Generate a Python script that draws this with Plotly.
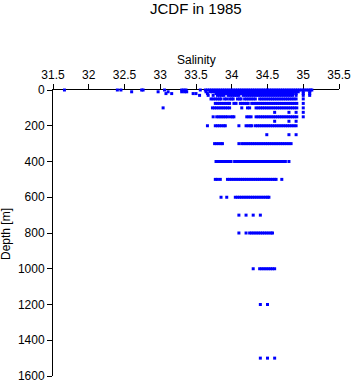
import plotly.graph_objects as go

title_text = "JCDF in 1985"
x_title = "Salinity"
y_title = "Depth [m]"

x_ticks = [31.5, 32.0, 32.5, 33.0, 33.5, 34.0, 34.5, 35.0, 35.5]
x_tick_labels = ["31.5", "32", "32.5", "33", "33.5", "34", "34.5", "35", "35.5"]
y_ticks = [0, 200, 400, 600, 800, 1000, 1200, 1400, 1600]

sal_0 = [31.66, 32.40, 32.45, 32.74, 32.76, 33.06, 33.30, 33.33, 33.36, 33.56,
         33.63, 33.66, 33.69, 33.72, 33.75, 33.78, 33.81, 33.84, 33.87, 33.90, 33.93, 33.96, 33.99,
         34.02, 34.05, 34.08, 34.11, 34.14, 34.17, 34.20, 34.23, 34.26, 34.29, 34.32, 34.35, 34.38,
         34.41, 34.44, 34.47, 34.50, 34.53, 34.56, 34.59, 34.62, 34.65, 34.68, 34.71, 34.74, 34.77,
         34.80, 34.83, 34.86, 34.89, 34.92, 34.95, 34.98, 35.01, 35.04, 35.07, 35.10, 35.12]
sal_10 = [32.60, 32.97, 33.11, 33.30, 33.34, 33.37, 33.64, 33.70, 33.73, 33.76, 33.79, 33.82,
          33.85, 33.88, 33.91, 33.94, 33.97, 34.00, 34.03, 34.06, 34.09, 34.12, 34.15, 34.18,
          34.21, 34.24, 34.27, 34.30, 34.33, 34.36, 34.39, 34.42, 34.45, 34.48, 34.51, 34.54,
          34.57, 34.60, 34.63, 34.66, 34.69, 34.72, 34.75, 34.78, 34.81, 34.84, 34.87, 34.90,
          34.93, 35.00, 35.09]
sal_20 = [33.08, 33.16, 33.46, 33.50, 33.66, 33.78, 33.81, 33.84, 33.87, 33.90, 33.93, 33.96,
          33.99, 34.02, 34.05, 34.08, 34.11, 34.14, 34.17, 34.20, 34.23, 34.26, 34.29, 34.32,
          34.35, 34.38, 34.41, 34.44, 34.47, 34.50, 34.53, 34.56, 34.59, 34.62, 34.65, 34.68,
          34.71, 34.74, 34.77, 34.80, 34.83, 34.86, 34.90, 35.00, 35.09]
sal_30 = [33.55, 33.67, 33.74, 33.80, 33.83, 33.86, 33.89, 33.95, 33.98, 34.01, 34.04, 34.07,
          34.10, 34.16, 34.19, 34.22, 34.25, 34.28, 34.31, 34.34, 34.37, 34.40, 34.43, 34.46,
          34.49, 34.52, 34.55, 34.58, 34.61, 34.64, 34.67, 34.70, 34.73, 34.76, 34.79, 34.82,
          34.85, 34.90, 35.00, 35.09]
sal_50 = [33.71, 33.74, 33.77, 33.80, 33.83, 33.85, 33.90, 33.93, 33.97, 34.00, 34.02, 34.08,
          34.11, 34.13, 34.18, 34.21, 34.24, 34.27, 34.30, 34.33, 34.39, 34.42, 34.45, 34.48,
          34.51, 34.54, 34.57, 34.60, 34.63, 34.66, 34.69, 34.72, 34.75, 34.78, 34.81, 34.84,
          34.87, 34.90, 35.00]
sal_75 = [33.77, 33.80, 33.83, 33.86, 33.89, 33.92, 33.95, 33.97, 34.03, 34.06, 34.12, 34.15,
          34.18, 34.21, 34.23, 34.28, 34.31, 34.34, 34.37, 34.40, 34.43, 34.46, 34.49, 34.52,
          34.55, 34.58, 34.61, 34.64, 34.67, 34.70, 34.73, 34.76, 34.79, 34.82, 34.85, 34.88,
          34.91, 35.00]
sal_100 = [33.04, 33.73, 33.76, 33.79, 33.82, 33.85, 33.88, 33.91, 33.94, 33.97, 34.14, 34.22,
           34.25, 34.34, 34.37, 34.40, 34.43, 34.46, 34.49, 34.52, 34.55, 34.58, 34.61, 34.64,
           34.67, 34.70, 34.73, 34.76, 34.79, 34.82, 34.85, 34.88, 34.91, 35.00]
sal_125 = [34.60, 34.80, 34.90, 35.00]
sal_150 = [33.74, 33.79, 33.82, 33.85, 33.88, 33.91, 33.94, 33.98, 34.01, 34.03, 34.21, 34.24,
           34.27, 34.34, 34.37, 34.40, 34.43, 34.46, 34.49, 34.52, 34.55, 34.58, 34.61, 34.64,
           34.67, 34.70, 34.73, 34.76, 34.79, 34.82, 34.85, 34.88, 34.91, 35.00]
sal_175 = [34.60, 34.80, 34.90]
sal_200 = [33.66, 33.77, 33.80, 33.83, 33.86, 33.89, 33.91, 34.10, 34.20, 34.23, 34.26, 34.28,
           34.33, 34.36, 34.39, 34.42, 34.45, 34.48, 34.51, 34.54, 34.57, 34.60, 34.63, 34.66,
           34.69, 34.72, 34.75, 34.78, 34.81, 34.84, 34.87, 34.90]
sal_250 = [34.49, 34.80, 34.90]
sal_300 = [33.76, 33.79, 33.82, 33.85, 33.87, 34.10, 34.14, 34.17, 34.20, 34.23, 34.26, 34.29,
           34.32, 34.35, 34.38, 34.41, 34.44, 34.47, 34.50, 34.53, 34.56, 34.59, 34.62, 34.65,
           34.68, 34.71, 34.74, 34.77, 34.80, 34.83]
sal_400 = [33.78, 33.81, 33.84, 33.87, 33.90, 33.93, 33.96, 33.99, 34.04, 34.07, 34.10, 34.13,
           34.16, 34.18, 34.21, 34.24, 34.27, 34.30, 34.33, 34.36, 34.39, 34.42, 34.45, 34.48,
           34.51, 34.54, 34.57, 34.60, 34.63, 34.66, 34.69, 34.72, 34.75, 34.80]
sal_500 = [33.77, 33.80, 33.84, 33.94, 33.97, 34.00, 34.03, 34.06, 34.09, 34.12, 34.15, 34.18,
           34.21, 34.24, 34.27, 34.30, 34.33, 34.36, 34.39, 34.42, 34.45, 34.48, 34.51, 34.54,
           34.57, 34.60, 34.62, 34.70]
sal_600 = [33.85, 33.93, 34.05, 34.08, 34.11, 34.14, 34.17, 34.20, 34.23, 34.26, 34.29, 34.32,
           34.35, 34.38, 34.41, 34.44, 34.47, 34.50, 34.52]
sal_700 = [34.10, 34.20, 34.30, 34.40]
sal_800 = [34.10, 34.20, 34.25, 34.28, 34.31, 34.34, 34.37, 34.40, 34.43, 34.46, 34.49, 34.52,
           34.55, 34.57]
sal_1000 = [34.30, 34.39, 34.42, 34.45, 34.48, 34.51, 34.54, 34.57, 34.60]
sal_1200 = [34.40, 34.50]
sal_1500 = [34.40, 34.50, 34.60]

depth_levels = [0, 10, 20, 30, 50, 75, 100, 125, 150, 175, 200, 250, 300,
                400, 500, 600, 700, 800, 1000, 1200, 1500]
salinity_by_level = [sal_0, sal_10, sal_20, sal_30, sal_50, sal_75, sal_100, sal_125,
                     sal_150, sal_175, sal_200, sal_250, sal_300, sal_400, sal_500,
                     sal_600, sal_700, sal_800, sal_1000, sal_1200, sal_1500]

xs, ys = [], []
for d, vals in zip(depth_levels, salinity_by_level):
    for v in vals:
        xs.append(v)
        ys.append(d)

FONT = "Liberation Sans, Arial, Helvetica, sans-serif"

fig = go.Figure()
fig.add_trace(go.Scatter(
    x=xs, y=ys, mode="markers",
    marker=dict(symbol="square", size=3, color="#0000ff", line=dict(width=0)),
    cliponaxis=False, showlegend=False, hoverinfo="x+y",
))

fig.update_layout(
    width=353, height=384,
    margin=dict(l=53, r=14, t=90, b=8, pad=0, autoexpand=False),
    paper_bgcolor="white", plot_bgcolor="white",
    font=dict(family=FONT, size=12, color="black"),
    showlegend=False,
    xaxis=dict(
        side="top", range=[31.5, 35.5], tickvals=x_ticks, ticktext=x_tick_labels,
        showline=True, linecolor="black", linewidth=1, mirror=False,
        ticks="outside", ticklen=5, tickwidth=1, tickcolor="black",
        showgrid=False, zeroline=False, layer="below traces", automargin=False,
        tickfont=dict(family=FONT, size=12, color="black"),
        fixedrange=True,
    ),
    yaxis=dict(
        range=[1600, 0], tickvals=y_ticks,
        showline=True, linecolor="black", linewidth=1, mirror=False,
        ticks="outside", ticklen=5, tickwidth=1, tickcolor="black",
        showgrid=False, zeroline=False, layer="below traces", automargin=False,
        tickfont=dict(family=FONT, size=12, color="black"),
        fixedrange=True,
    ),
    annotations=[
        dict(text=title_text, xref="paper", yref="paper", x=0.5, y=1 + 81.5 / 286,
             xanchor="center", yanchor="middle", showarrow=False,
             font=dict(family=FONT, size=15, color="black")),
        dict(text=x_title, xref="paper", yref="paper", x=0.5, y=1 + 30 / 286,
             xanchor="center", yanchor="middle", showarrow=False,
             font=dict(family=FONT, size=12, color="black")),
        dict(text=y_title, xref="paper", yref="paper", x=-47 / 286, y=142 / 286,
             xanchor="center", yanchor="middle", showarrow=False, textangle=-90,
             font=dict(family=FONT, size=12, color="black")),
    ],
)

fig.write_html("out.html", config={"displayModeBar": False})
